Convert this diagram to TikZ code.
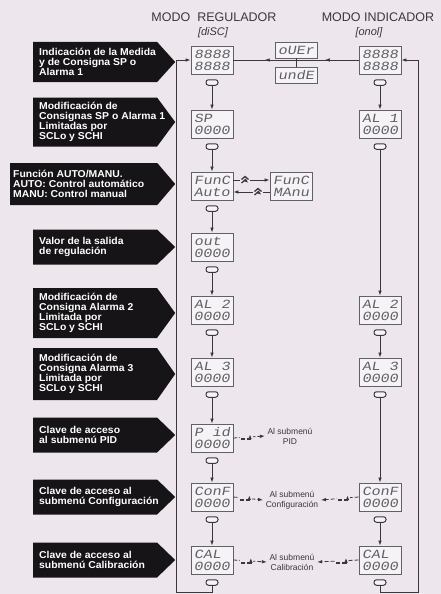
\documentclass[tikz,border=0pt]{standalone}
\usepackage{fontspec}
\setmainfont{Liberation Sans}
\newfontfamily\segfont[FakeSlant=0.18,FakeStretch=1.2]{Liberation Mono}
\newfontfamily\tagfont[FakeStretch=1.04]{Liberation Sans Bold}
\usetikzlibrary{arrows.meta,shapes.symbols,decorations.markings}
\pgfdeclarelayer{background}
\pgfdeclarelayer{foreground}
\pgfsetlayers{background,main,foreground}
\definecolor{paper}{RGB}{238,230,237}
\definecolor{lcd}{RGB}{246,243,246}
\definecolor{segm}{RGB}{96,96,102}
\definecolor{wire}{RGB}{58,56,60}
\definecolor{tagblack}{RGB}{22,20,22}
\tikzset{
  wire/.style={draw=wire, line width=0.8pt},
  flow/.style={wire, -{Latex[length=5pt,width=3.6pt]}},
  disp/.style={draw=segm, line width=0.9pt, fill=lcd, text=segm, minimum width=42pt, minimum height=28pt, inner sep=0pt, align=left, font=\segfont\fontsize{12.5}{12}\selectfont},
  smalldisp/.style={disp, minimum height=16pt},
  keyicon/.style={draw=wire, line width=1pt, fill=lcd, rounded corners=2.5pt, minimum width=12pt, minimum height=5.5pt, inner sep=0pt},
  tag/.style={signal, signal to=east, signal pointer angle=#1, fill=tagblack, anchor=west, inner sep=0pt, minimum width=142pt},
  tagtext/.style={anchor=west, text=white, align=left, inner sep=0pt, font=\tagfont\fontsize{10}{10}\selectfont},
  note/.style={align=center, font=\fontsize{8.5}{10}\selectfont, text=wire, inner sep=2.5pt},
  enterkey/.style={inner sep=0pt, minimum width=13pt, minimum height=10pt, fill=paper, path picture={\draw[wire, line width=1.6pt] ([xshift=-5.5pt,yshift=-2pt]path picture bounding box.center) -- ++(9.5pt,0pt) -- ++(0pt,5pt);}},
  upkey/.style={inner sep=0pt, minimum width=10pt, minimum height=10pt, fill=paper, path picture={\draw[wire, line width=1.3pt] ([xshift=-3.5pt,yshift=0.5pt]path picture bounding box.center) -- ++(3.5pt,3pt) -- ++(3.5pt,-3pt) ([xshift=-3.5pt,yshift=-3pt]path picture bounding box.center) -- ++(3.5pt,3pt) -- ++(3.5pt,-3pt);}},
  midarrows/.style={decoration={markings, mark=at position 0.27 with {\arrow{Latex[length=5pt,width=3.6pt]}}, mark=at position 0.75 with {\arrow{Latex[length=5pt,width=3.6pt]}}}, postaction={decorate}}
}

\begin{document}
\begin{tikzpicture}[x=1pt,y=-1pt]
\useasboundingbox (0,0) rectangle (441,594);
\begin{pgfonlayer}{background}
\fill[paper] (0,0) rectangle (441,594);
\end{pgfonlayer}

% heads
\node[font=\fontsize{12.5}{14}\selectfont, text=wire] (hreg) at (214,17) {MODO\ \ REGULADOR};
\node[font=\fontsize{12.5}{14}\selectfont, text=wire] (hind) at (378,17) {MODO INDICADOR};
\node[font=\itshape\fontsize{11}{13}\selectfont, text=wire] (hdisc) at (213,33) {[diSC]};
\node[font=\itshape\fontsize{11}{13}\selectfont, text=wire] (honol) at (369,33) {[onol]};

% left column
\node[disp] (d1) at (212,60) {8888\\8888};
\node[disp] (d2) at (212,124) {SP\\0000};
\node[disp] (d3) at (212,186) {FunC\\Auto};
\node[disp] (d4) at (212,247) {out\\0000};
\node[disp] (d5) at (212,310) {AL\ 2\\0000};
\node[disp] (d6) at (212,372) {AL\ 3\\0000};
\node[disp] (d7) at (212,438) {P\ id\\0000};
\node[disp] (d8) at (212,497) {ConF\\0000};
\node[disp] (d9) at (212,560) {CAL\\0000};
\node[keyicon] (k1) at (212,82.5) {};
\node[keyicon] (k2) at (212,146.5) {};
\node[keyicon] (k3) at (212,208.5) {};
\node[keyicon] (k4) at (212,269.5) {};
\node[keyicon] (k5) at (212,332.5) {};
\node[keyicon] (k6) at (212,394.5) {};
\node[keyicon] (k7) at (212,460.5) {};
\node[keyicon] (k8) at (212,519.5) {};
\node[keyicon] (k9) at (212,582.5) {};

% right column
\node[disp] (r1) at (380,60) {8888\\8888};
\node[disp] (r2) at (380,124) {AL\ 1\\0000};
\node[disp] (r5) at (380,310) {AL\ 2\\0000};
\node[disp] (r6) at (380,372) {AL\ 3\\0000};
\node[disp] (r8) at (380,497) {ConF\\0000};
\node[disp] (r9) at (380,560) {CAL\\0000};
\node[keyicon] (kr1) at (380,82.5) {};
\node[keyicon] (kr2) at (380,146.5) {};
\node[keyicon] (kr5) at (380,332.5) {};
\node[keyicon] (kr6) at (380,394.5) {};
\node[keyicon] (kr8) at (380,519.5) {};
\node[keyicon] (kr9) at (380,582.5) {};

% middle
\node[smalldisp] (ov) at (296,50) {oUEr};
\node[smalldisp] (un) at (296,75) {undE};
\node[disp] (ma) at (291,186) {FunC\\MAnu};
\node[note] (s7) at (290,436) {Al submenú\\PID};
\node[note] (s8) at (292,500) {Al submenú\\Configuración};
\node[note] (s9) at (292,562) {Al submenú\\Calibración};

% connectors
\draw[wire, midarrows] (r1.west) -- (d1.east);
\draw[wire] (ov) -- (un);
\draw[flow] (k1) -- (d2);
\draw[flow] (k2) -- (d3);
\draw[flow] (k3) -- (d4);
\draw[flow] (k4) -- (d5);
\draw[flow] (k5) -- (d6);
\draw[flow] (k6) -- (d7);
\draw[flow] (k7) -- (d8);
\draw[flow] (k8) -- (d9);
\draw[flow] (kr1) -- (r2);
\draw[flow] (kr2) -- (r5);
\draw[flow] (kr5) -- (r6);
\draw[flow] (kr6) -- (r8);
\draw[flow] (kr8) -- (r9);
\coordinate (lb) at (176,592);
\coordinate (lt) at (176,60);
\coordinate (rb) at (418,592);
\coordinate (rt) at (418,60);
\draw[flow] (k9) |- (lb) -- (lt) -- (d1.west); %loop regulador
\draw[flow] (kr9) |- (rb) -- (rt) -- (r1.east); %loop indicador
\draw[flow] ([yshift=6pt]d3.east) -- node[upkey, pos=0.32] (u1) {} ([yshift=6pt]ma.west);
\draw[flow] ([yshift=-6pt]ma.west) -- node[upkey, pos=0.32] (u2) {} ([yshift=-6pt]d3.east);
\draw[flow, dash pattern=on 4pt off 2pt] (d7.east) -- node[enterkey, pos=0.4] (e7) {} (s7.west);
\draw[flow, dash pattern=on 4pt off 2pt] (d8.east) -- node[enterkey, pos=0.4] (e8) {} (s8.west);
\draw[flow, dash pattern=on 4pt off 2pt] (d9.east) -- node[enterkey, pos=0.4] (e9) {} (s9.west);
\draw[flow, dash pattern=on 4pt off 2pt] (r8.west) -- node[enterkey, pos=0.4] (er8) {} (s8.east);
\draw[flow, dash pattern=on 4pt off 2pt] (r9.west) -- node[enterkey, pos=0.4] (er9) {} (s9.east);

% labels
\begin{pgfonlayer}{foreground}
\node[tag=96, minimum height=40pt] (t1) at (33,62) {};
\node[tag=107, minimum height=49pt] (t2) at (33,122) {};
\node[tag=99, minimum height=42pt, minimum width=165pt] (t3) at (10,184) {};
\node[tag=88, minimum height=35pt] (t4) at (33,247) {};
\node[tag=108, minimum height=50pt] (t5) at (33,313) {};
\node[tag=110, minimum height=52pt] (t6) at (33,374) {};
\node[tag=88, minimum height=35pt] (t7) at (33,435) {};
\node[tag=88, minimum height=35pt] (t8) at (33,497) {};
\node[tag=88, minimum height=35pt] (t9) at (33,560) {};
\node[tagtext] (x1) at ([xshift=6pt]t1.west) {Indicación de la Medida\\y de Consigna SP o\\Alarma 1};
\node[tagtext] (x2) at ([xshift=6pt]t2.west) {Modificación de\\Consignas SP o Alarma 1\\Limitadas por\\SCLo y SCHI};
\node[tagtext] (x3) at ([xshift=3pt]t3.west) {Función AUTO/MANU.\\AUTO: Control automático\\MANU: Control manual};
\node[tagtext] (x4) at ([xshift=6pt]t4.west) {Valor de la salida\\de regulación};
\node[tagtext] (x5) at ([xshift=6pt]t5.west) {Modificación de\\Consigna Alarma 2\\Limitada por\\SCLo y SCHI};
\node[tagtext] (x6) at ([xshift=6pt]t6.west) {Modificación de\\Consigna Alarma 3\\Limitada por\\SCLo y SCHI};
\node[tagtext] (x7) at ([xshift=6pt]t7.west) {Clave de acceso\\al submenú PID};
\node[tagtext] (x8) at ([xshift=6pt]t8.west) {Clave de acceso al\\submenú Configuración};
\node[tagtext] (x9) at ([xshift=6pt]t9.west) {Clave de acceso al\\submenú Calibración};
\end{pgfonlayer}
\end{tikzpicture}
\end{document}
